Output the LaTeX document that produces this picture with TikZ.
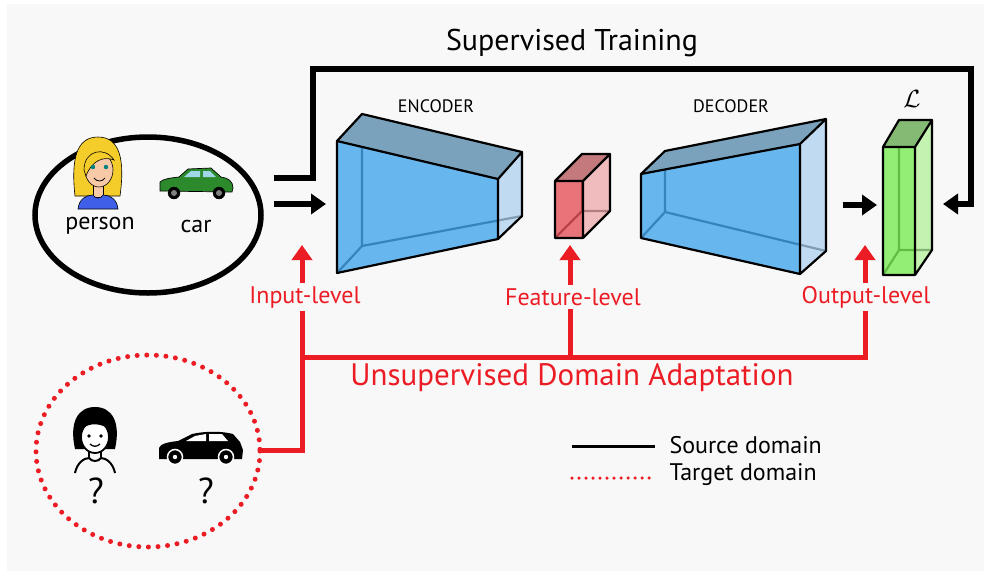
\documentclass[tikz,border=0pt]{standalone}
\usepackage{fontspec}
\setmainfont{PT Sans}
\usetikzlibrary{arrows.meta}

\definecolor{bgc}{HTML}{F8F8F8}
\definecolor{uda}{HTML}{EC1C24}
\definecolor{encfront}{HTML}{45A6EC}
\definecolor{enctop}{HTML}{7BA2BC}
\definecolor{encside}{HTML}{AED1EF}
\definecolor{featfront}{HTML}{E5545A}
\definecolor{feattop}{HTML}{C47A7C}
\definecolor{featside}{HTML}{EFA9AA}
\definecolor{lossfront}{HTML}{79EC55}
\definecolor{losstop}{HTML}{85BA74}
\definecolor{lossside}{HTML}{B2F09A}
\definecolor{hair}{HTML}{F5CD2A}
\definecolor{skin}{HTML}{F7C9A6}
\definecolor{shirt}{HTML}{3F5FE8}
\definecolor{carbody}{HTML}{2C8A2C}
\definecolor{carglass}{HTML}{9FD6E8}

% box drawn from its eight corners #1A..#1H
\newcommand\prism[4]{%
  \draw[prismline] (#1E) -- (#1H) -- (#1G) (#1B) -- (#1H);
  \fill[#2,fill opacity=.8] (#1A) -- (#1B) -- (#1D) -- (#1C) -- cycle;
  \fill[#3] (#1A) -- (#1E) -- (#1F) -- (#1C) -- cycle;
  \fill[#4,fill opacity=.75] (#1C) -- (#1F) -- (#1G) -- (#1D) -- cycle;
  \draw[prismline] (#1A) -- (#1B) -- (#1D) -- (#1C) -- cycle
    (#1A) -- (#1E) -- (#1F) -- (#1C) (#1F) -- (#1G) -- (#1D);
}

\begin{document}
\begin{tikzpicture}[x=1pt,y=-1pt]
  \tikzstyle{every node}=[font=\fontsize{24}{28}\selectfont]
  \tikzstyle{blk}=[line width=5.5pt]
  \tikzstyle{redl}=[line width=5pt,draw=uda]
  \tikzstyle{arrowhd}=[-{Triangle[length=15pt,width=20pt]}]
  \tikzstyle{lbl}=[text=uda,fill=bgc,inner sep=3pt]
  \tikzstyle{prismline}=[line width=2.2pt,line join=round]

  \fill[white] (0,0) rectangle (990,576);
  \fill[bgc] (7,4) rectangle (984,571);

  % source domain
  \coordinate (src) at (148,215);
  \draw[blk] (src) ellipse [x radius=113, y radius=78];
  \filldraw[fill=hair,line width=.6pt] (75,196) .. controls (71,160) and (76,137) .. (98,137)
    .. controls (120,137) and (125,160) .. (120,196) -- cycle;
  \filldraw[fill=skin,line width=.6pt] (93,184) rectangle (103,197);
  \filldraw[fill=shirt,line width=.6pt] (78,209) .. controls (79,199) and (86,195) .. (93,195)
    .. controls (95,199) and (101,199) .. (103,195) .. controls (110,195) and (117,199) .. (118,209) -- cycle;
  \filldraw[fill=skin,line width=.6pt] (99,170) ellipse [x radius=14, y radius=17];
  \filldraw[fill=hair,line width=.6pt] (84,170) .. controls (84,150) and (105,146) .. (114,160)
    .. controls (104,156) and (92,160) .. (86,176) -- cycle;
  \fill[teal] (93,167) circle (2.2) (106,167) circle (2.2);
  \draw[line width=.8pt] (94,178) .. controls (97,182) and (102,182) .. (105,178);
  \node (person) at (100,226) {person};

  \filldraw[fill=carbody,line width=.7pt] (160,191) -- (160,182) .. controls (163,179) and (170,178) .. (179,177)
    -- (188,169) -- (211,168) -- (221,177) .. controls (228,178) and (233,181) .. (233,188) -- (232,192) -- cycle;
  \fill[carglass] (191,171) -- (200,171) -- (200,177) -- (184,177) -- cycle
    (203,171) -- (210,171) -- (216,177) -- (203,177) -- cycle;
  \filldraw[fill=black,draw=black] (174,193) circle (6) (219,193) circle (6);
  \fill[gray] (174,193) circle (3) (219,193) circle (3);
  \node (car) at (196,226) {car};

  % target domain
  \coordinate (tgt) at (148,451);
  \draw[uda,line width=5pt,line cap=round,dash pattern=on 0pt off 9.6pt] (tgt) ellipse [x radius=112, y radius=96];
  \fill (75,449) .. controls (69,422) and (78,407) .. (95,407) .. controls (112,407) and (121,422) .. (115,449) -- cycle;
  \filldraw[fill=white,line width=1.8pt] (95,437) ellipse [x radius=14, y radius=16];
  \fill (80,431) .. controls (80,412) and (110,412) .. (110,431) .. controls (104,423) and (88,421) .. (80,431);
  \fill (89,436) circle (1.8) (101,436) circle (1.8);
  \draw[line width=1.3pt] (90,444) .. controls (93,447) and (97,447) .. (100,444);
  \draw[line width=2pt] (89,452) -- (89,458) (101,452) -- (101,458);
  \draw[line width=2pt] (75,473) .. controls (77,463) and (84,458) .. (89,458)
    .. controls (92,462) and (98,462) .. (101,458) .. controls (106,458) and (113,463) .. (115,473);
  \node[font=\fontsize{36}{40}\selectfont] (q1) at (96,491) {?};

  \fill (159,459) -- (159,448) .. controls (160,444) and (168,442) .. (178,441) -- (192,434)
    .. controls (205,431) and (222,431) .. (233,434) -- (240,442) -- (243,450) -- (242,459) -- cycle;
  \fill[white] (195,436) -- (206,434) -- (206,441) -- (186,441) -- cycle
    (209,434) -- (222,434) -- (228,441) -- (209,441) -- cycle;
  \filldraw[fill=black,draw=white,line width=1.5pt] (175,457) circle (7.5) (226,457) circle (7.5);
  \fill[white] (175,457) circle (2.2) (226,457) circle (2.2);
  \node[font=\fontsize{36}{40}\selectfont] (q2) at (206,491) {?};

  % network
  \coordinate (encA) at (337,141); \coordinate (encB) at (337,273);
  \coordinate (encC) at (498,179); \coordinate (encD) at (498,239);
  \coordinate (encE) at (362,114); \coordinate (encF) at (522,152);
  \coordinate (encG) at (522,216); \coordinate (encH) at (362,246);
  \prism{enc}{encfront}{enctop}{encside}
  \node[font=\fontsize{18}{20}\selectfont] (enclbl) at (436,106) {ENCODER};

  \coordinate (featA) at (555,181); \coordinate (featB) at (555,238);
  \coordinate (featC) at (583,181); \coordinate (featD) at (583,238);
  \coordinate (featE) at (582,154); \coordinate (featF) at (610,154);
  \coordinate (featG) at (610,211); \coordinate (featH) at (582,211);
  \prism{feat}{featfront}{feattop}{featside}

  \coordinate (decA) at (641,174); \coordinate (decB) at (641,238);
  \coordinate (decC) at (800,144); \coordinate (decD) at (800,274);
  \coordinate (decE) at (665,151); \coordinate (decF) at (826,119);
  \coordinate (decG) at (826,251); \coordinate (decH) at (665,212);
  \prism{dec}{encfront}{enctop}{encside}
  \node[font=\fontsize{18}{20}\selectfont] (declbl) at (731,106) {DECODER};

  \coordinate (lossA) at (883,147); \coordinate (lossB) at (883,275);
  \coordinate (lossC) at (915,147); \coordinate (lossD) at (915,275);
  \coordinate (lossE) at (899,120); \coordinate (lossF) at (932,120);
  \coordinate (lossG) at (932,250); \coordinate (lossH) at (899,250);
  \prism{loss}{lossfront}{losstop}{lossside}
  \node[font=\fontsize{28}{30}\selectfont] (losslbl) at (912,99) {$\mathcal{L}$};

  % supervised path
  \coordinate (supin) at (274,178);
  \coordinate (suptop) at (971,69);
  \coordinate (supout) at (943,204);
  \draw[blk,arrowhd] (supin) -- ++(39,0) |- (suptop) |- (supout);
  \coordinate (inA) at (274,204); \coordinate (inB) at (326,204);
  \draw[blk,arrowhd] (inA) -- (inB);
  \coordinate (outA) at (843,205); \coordinate (outB) at (877,205);
  \draw[blk,arrowhd] (outA) -- (outB);
  \node[font=\fontsize{30}{34}\selectfont] (suplbl) at (572,43) {Supervised Training};

  % adaptation paths
  \coordinate (tgtR) at (262,450);
  \coordinate (inTip) at (302,245);
  \coordinate (busL) at (302,357);
  \coordinate (busF) at (570,357);
  \coordinate (featTip) at (570,245);
  \coordinate (outTip) at (865,245);
  \draw[redl,arrowhd] (tgtR) -| (inTip);
  \draw[redl,arrowhd] (busL) -| (outTip);
  \draw[redl,arrowhd] (busF) -- (featTip);
  \node[lbl] (inlbl) at (305,297) {Input-level};
  \node[lbl] (featlbl) at (573,297) {Feature-level};
  \node[lbl] (outlbl) at (866,297) {Output-level};
  \node[text=uda,font=\fontsize{31}{36}\selectfont] (udalbl) at (572,378) {Unsupervised Domain Adaptation};

  % legend
  \coordinate (lgA) at (572,446); \coordinate (lgB) at (655,446);
  \coordinate (lgC) at (572,478); \coordinate (lgD) at (655,478);
  \draw[line width=3pt] (lgA) -- (lgB);
  \draw[uda,line width=3.5pt,line cap=round,dash pattern=on 0pt off 7pt] (lgC) -- (lgD);
  \node[anchor=west] (srclbl) at (666,445) {Source domain};
  \node[anchor=west] (tgtlbl) at (666,475) {Target domain};
\end{tikzpicture}
\end{document}
